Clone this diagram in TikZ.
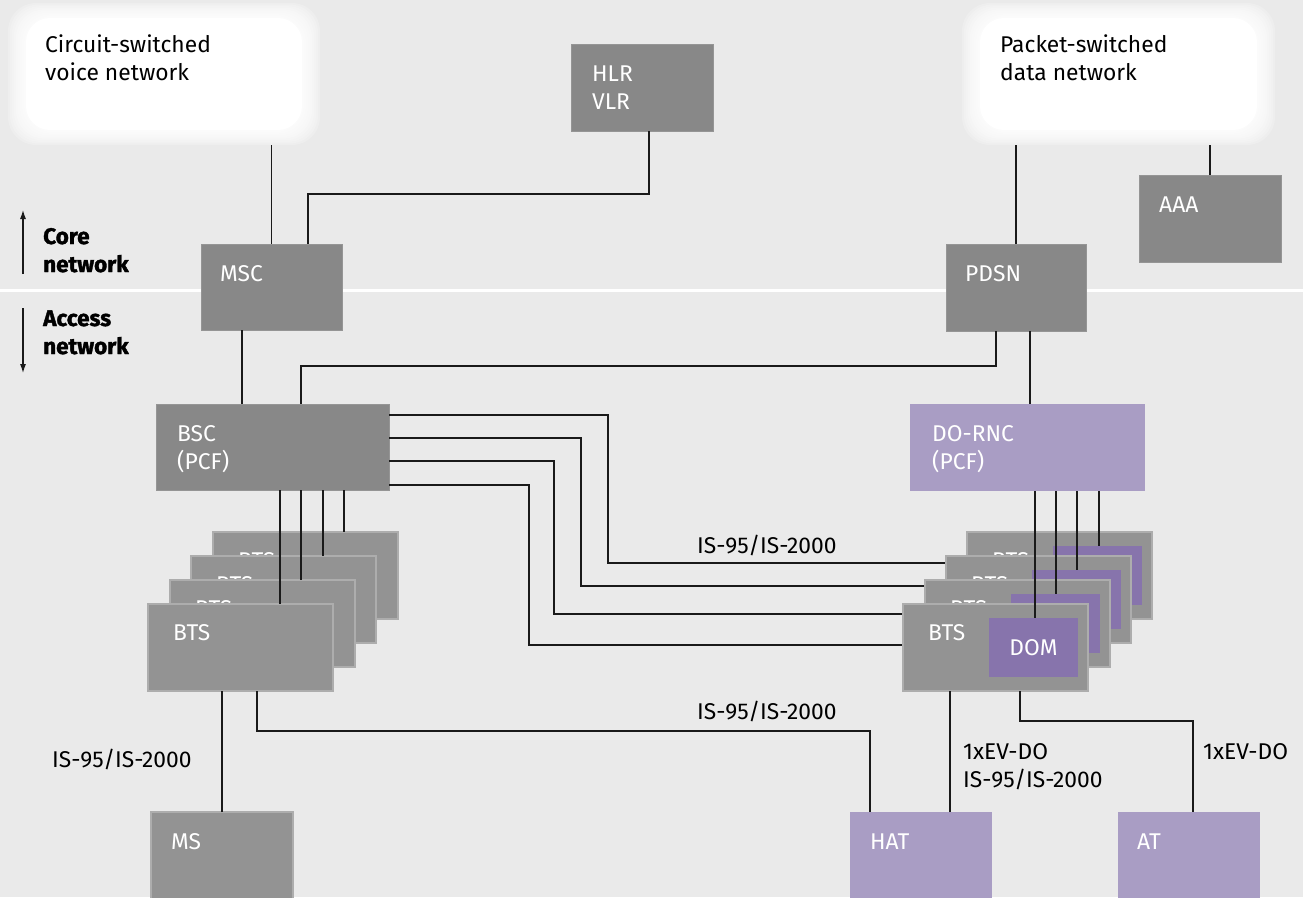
\documentclass[tikz,border=0pt]{standalone}
\usepackage{fontspec}
\setmainfont{Fira Sans}
\newfontfamily\heavyfont{Fira Sans}[BoldFeatures={FakeBold=1.6}]
\usetikzlibrary{calc,arrows.meta}
\definecolor{bgc}{HTML}{EAEAEA}
\definecolor{netgray}{HTML}{888888}
\definecolor{netedge}{HTML}{959595}
\definecolor{btsgray}{HTML}{939393}
\definecolor{btsedge}{HTML}{ADADAD}
\definecolor{lilac}{HTML}{A99DC4}
\definecolor{dompurple}{HTML}{8774AC}
\definecolor{wirec}{HTML}{1A1A1A}
\begin{document}
\begin{tikzpicture}[x=1pt,y=-1pt,
  unit/.style={rectangle,inner sep=0pt,outer sep=0pt,anchor=north west},
  core/.style={unit,fill=netgray,draw=netedge,line width=0.8pt},
  bts/.style={unit,fill=btsgray,draw=btsedge,line width=1.2pt,minimum width=185pt,minimum height=87pt},
  lilacbox/.style={unit,fill=lilac},
  dom/.style={unit,fill=dompurple,minimum width=89pt,minimum height=59pt},
  txt/.style={inner sep=0pt,anchor=base west,align=left,font=\fontsize{22.8}{27.5}\selectfont},
  wtxt/.style={txt,text=white},
  btxt/.style={txt,text=black},
  hd/.style={txt,font=\fontsize{22.5}{28}\selectfont\heavyfont\bfseries},
  wire/.style={draw=wirec,line width=1.3pt},
  ]
% canvas and core/access divider
\fill[bgc] (0,0) rectangle (1303,897);
\useasboundingbox (0,0) rectangle (1303,897);
\draw[white,line width=3pt] (0,290) -- (1303,290);

% soft white clouds
\foreach \xa/\xb in {8/320, 962/1275}{
  \foreach \i in {0,...,9}{
    \fill[white,opacity=0.2,rounded corners=28pt] (\xa+2*\i,3+1.6*\i) rectangle (\xb-2*\i,145-1.6*\i);
  }
  \fill[white,rounded corners=24pt] (\xa+18,18) rectangle (\xb-18,130);
}
\node[unit,minimum width=312pt,minimum height=140pt] (csn) at (8,5) {};
\node[unit,minimum width=313pt,minimum height=140pt] (psn) at (962,5) {};
% two-line captions are placed at the baseline of their last line
\node[btxt] (csnt) at (45,80) {Circuit-switched\\voice network};
\node[btxt] (psnt) at (1000,80) {Packet-switched\\data network};

% core / access markers
\coordinate (coreA) at (23,274);
\coordinate (coreB) at (23,210);
\coordinate (accA) at (23,308);
\coordinate (accB) at (23,373);
\draw[wire,line width=1.1pt,-{Latex[length=9pt,width=6pt]}] (coreA) -- (coreB);
\draw[wire,line width=1.1pt,-{Latex[length=9pt,width=6pt]}] (accA) -- (accB);
\node[hd] (coret) at (43,272) {Core\\network};
\node[hd] (acct) at (43,354) {Access\\network};

% network elements
\node[core,minimum width=142pt,minimum height=87pt] (hlr) at (571,44) {};
\node[core,minimum width=141pt,minimum height=86pt] (msc) at (201,244) {};
\node[core,minimum width=140pt,minimum height=87pt] (pdsn) at (946,244) {};
\node[core,minimum width=142pt,minimum height=87pt] (aaa) at (1139,175) {};
\node[core,minimum width=233pt,minimum height=86pt] (bsc) at (156,404) {};
\node[lilacbox,minimum width=235pt,minimum height=87pt] (dornc) at (910,404) {};
\node[bts,minimum width=142pt,minimum height=90pt] (ms) at (151,812) {};
\node[lilacbox,minimum width=142pt,minimum height=90pt] (hat) at (850,812) {};
\node[lilacbox,minimum width=142pt,minimum height=90pt] (at) at (1118,812) {};

% wires lying underneath the boxes
\draw[wire] (msc.north) -- (msc.north |- csn.south);
\draw[wire] ([xshift=7pt]hlr.south) -- ++(0,63) -| ([xshift=36.5pt]msc.north);
\draw[wire] (pdsn.north) -- (pdsn.north |- psn.south);
\draw[wire] (aaa.north) -- (aaa.north |- psn.south);
\draw[wire] ([xshift=-29.5pt]msc.south) -- ([xshift=-29.5pt]msc.south |- bsc.north);
\draw[wire] ([xshift=-20pt]pdsn.south) -- ++(0,35) -| ([xshift=28.5pt]bsc.north);
\draw[wire] ([xshift=14pt]pdsn.south) -- ([xshift=14pt]pdsn.south |- dornc.north);

% BTS stack, BSC side
\node[bts] (lb4) at (213,532) {};
\node[wtxt] (lb4t) at ($(lb4.north west)+(25,36)$) {BTS};
\node[bts] (lb3) at (191,556) {};
\node[wtxt] (lb3t) at ($(lb3.north west)+(25,36)$) {BTS};
\node[bts] (lb2) at (170,580) {};
\node[wtxt] (lb2t) at ($(lb2.north west)+(25,36)$) {BTS};
\node[bts] (lb1) at (148,604) {};
\node[wtxt] (lb1t) at ($(lb1.north west)+(25,36)$) {BTS};

% BSC to the BTS stack with DO modules (runs under the boxes)
\draw[wire] ([yshift=-11pt]bsc.north east) -- ++(219,0) coordinate (k1) |- (k1 |- 0,563) -- (967,563) coordinate (e1);
\draw[wire] ([yshift=-34pt]bsc.north east) -- ++(192,0) coordinate (k2) |- (k2 |- 0,586) -- (946,586) coordinate (e2);
\draw[wire] ([yshift=-57pt]bsc.north east) -- ++(165,0) coordinate (k3) |- (k3 |- 0,614) -- (925,614) coordinate (e3);
\draw[wire] ([yshift=-81pt]bsc.north east) -- ++(140,0) coordinate (k4) |- (k4 |- 0,645) -- (903,645) coordinate (e4);

% BTS stack with DO modules
\node[bts] (rb4) at (967,532) {};
\node[wtxt] (rb4t) at ($(rb4.north west)+(25,36)$) {BTS};
\node[dom] (dom4) at ($(rb4.north west)+(86,14)$) {};
\node[bts] (rb3) at (946,556) {};
\node[wtxt] (rb3t) at ($(rb3.north west)+(25,36)$) {BTS};
\node[dom] (dom3) at ($(rb3.north west)+(86,14)$) {};
\node[bts] (rb2) at (925,580) {};
\node[wtxt] (rb2t) at ($(rb2.north west)+(25,36)$) {BTS};
\node[dom] (dom2) at ($(rb2.north west)+(86,14)$) {};
\node[bts] (rb1) at (903,604) {};
\node[wtxt] (rb1t) at ($(rb1.north west)+(25,36)$) {BTS};
\node[dom] (dom1) at ($(rb1.north west)+(86,14)$) {};
\node[wtxt,anchor=base] (dom1t) at ($(dom1.center)+(0,8)$) {DOM};

% fan-out to the BTS stacks
\foreach \s/\b in {7.5/lb1,28.5/lb2,50.5/lb3,71.5/lb4}{
  \draw[wire] ([xshift=\s pt]bsc.south) -- ([xshift=\s pt]bsc.south |- \b.north);
}
\foreach \s/\b in {7.5/dom1,28.5/dom2,49.5/dom3,71.5/dom4}{
  \draw[wire] ([xshift=\s pt]dornc.south) -- ([xshift=\s pt]dornc.south |- \b.north);
}

% air links
\draw[wire] (ms.north) -- (ms.north |- lb1.south);
\draw[wire] ([xshift=16.5pt]lb1.south) -- ++(0,40) -| ([xshift=-51pt]hat.north);
\draw[wire] ([xshift=29pt]hat.north) -- ([xshift=29pt]hat.north |- rb1.south);
\draw[wire] ([xshift=24.5pt]rb1.south) -- ++(0,30) -| ([xshift=4pt]at.north);

% box captions
\node[wtxt] (hlrt) at ($(hlr.north west)+(21,65)$) {HLR\\VLR};
\node[wtxt] (msct) at ($(msc.north west)+(19,37)$) {MSC};
\node[wtxt] (pdsnt) at ($(pdsn.north west)+(19,37)$) {PDSN};
\node[wtxt] (aaat) at ($(aaa.north west)+(20,37)$) {AAA};
\node[wtxt] (bsct) at ($(bsc.north west)+(21,65)$) {BSC\\(PCF)};
\node[wtxt] (dornct) at ($(dornc.north west)+(22,65)$) {DO-RNC\\(PCF)};
\node[wtxt] (mst) at ($(ms.north west)+(20,37)$) {MS};
\node[wtxt] (hatt) at ($(hat.north west)+(20,37)$) {HAT};
\node[wtxt] (att) at ($(at.north west)+(19,37)$) {AT};

% link labels
\node[btxt] (l1) at (697,553) {IS-95/IS-2000};
\node[btxt] (l2) at (697,719) {IS-95/IS-2000};
\node[btxt] (l3) at (52,767) {IS-95/IS-2000};
\node[btxt] (l4) at (963,787) {1xEV-DO\\IS-95/IS-2000};
\node[btxt] (l5) at (1203,759) {1xEV-DO};
\end{tikzpicture}
\end{document}
